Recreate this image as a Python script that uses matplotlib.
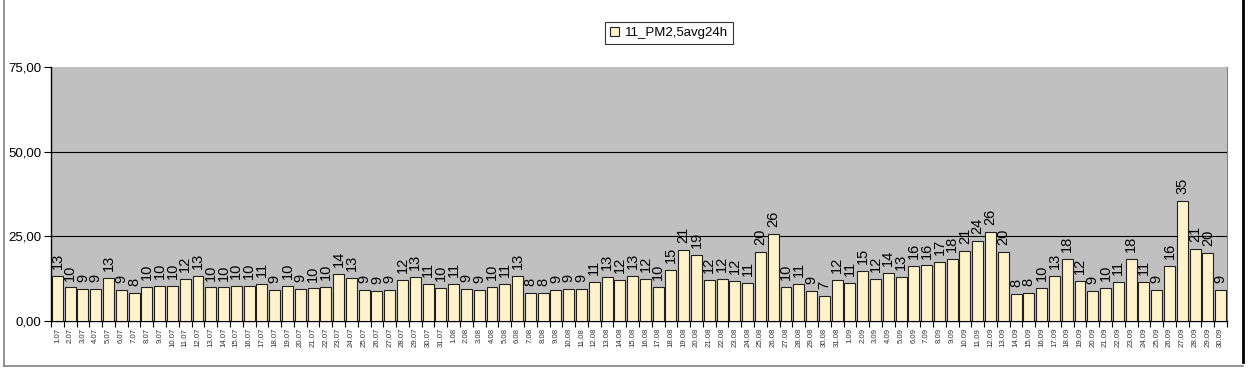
import numpy as np
import matplotlib
matplotlib.use("Agg")
import matplotlib.pyplot as plt
from matplotlib.lines import Line2D

plt.rcParams["font.family"] = ["Liberation Sans", "DejaVu Sans"]

# day labels: July (31), August (31), September (30)
dates = ([f"{d}.07" for d in range(1, 32)]
         + [f"{d}.08" for d in range(1, 32)]
         + [f"{d}.09" for d in range(1, 31)])

july = [13.2, 9.9, 9.4, 9.4, 12.7, 9.1, 8.4, 10.1, 10.3, 10.3,
        12.4, 13.4, 9.9, 9.9, 10.3, 10.3, 10.9, 9.1, 10.4, 9.4,
        9.6, 10.1, 13.8, 12.7, 9.1, 8.9, 9.1, 12.1, 13.0, 10.9,
        9.7]
august = [10.9, 9.4, 9.1, 10.1, 10.9, 13.4, 8.4, 8.4, 9.1, 9.4,
          9.4, 11.4, 12.9, 12.1, 13.2, 12.4, 10.0, 15.1, 21.1, 19.4,
          12.1, 12.4, 11.8, 11.1, 20.3, 25.8, 10.0, 10.9, 8.9, 7.4,
          12.1]
september = [11.1, 14.7, 12.4, 14.1, 13.0, 16.2, 16.4, 17.3, 18.4, 20.8,
             23.6, 26.4, 20.3, 8.0, 8.4, 9.7, 13.2, 18.2, 11.8, 8.9,
             9.7, 11.4, 18.4, 11.4, 9.1, 16.2, 35.4, 21.4, 20.0, 9.1]
values = july + august + september

series_name = "11_PM2,5avg24h"
y_ticks = [0, 25, 50, 75]
y_labels = ["0,00", "25,00", "50,00", "75,00"]

fig = plt.figure(figsize=(12.5, 3.7), dpi=100)
ax = fig.add_axes([51 / 1250, 49 / 370, 1176 / 1250, 254 / 370])
ax.set_facecolor("#c0c0c0")

x = np.arange(len(values))
bars = ax.bar(x, values, width=0.86, color="#fff2cc", edgecolor="#202020",
              linewidth=0.8, zorder=3, label=series_name)

for xi, v in zip(x, values):
    ax.annotate(f"{v:.0f}", (xi, v), xytext=(0, 5), textcoords="offset points",
                rotation=90, ha="center", va="bottom", fontsize=10.5, zorder=4)

ax.set_xlim(-0.5, len(values) - 0.5)
ax.set_ylim(0, 75)
ax.set_yticks(y_ticks)
ax.set_yticklabels(y_labels, fontsize=9.5)
for yv in (25, 50):
    ax.axhline(yv, color="black", linewidth=0.8, zorder=1)

ax.set_xticks(x)
ax.set_xticklabels(dates, rotation=90, fontsize=5.6, color="#303030")
ax.tick_params(axis="x", which="major", length=0, pad=5)
ax.set_xticks(np.arange(len(values) + 1) - 0.5, minor=True)
ax.tick_params(axis="x", which="minor", length=4, width=0.8)
ax.tick_params(axis="y", length=5, width=0.8, pad=2)

ax.spines["top"].set_visible(False)
ax.spines["right"].set_color("#808080")
ax.spines["left"].set_linewidth(1.0)
ax.spines["bottom"].set_linewidth(1.0)

leg = fig.legend(handles=[bars], labels=[series_name], loc="center",
                 bbox_to_anchor=(669 / 1250, 1 - 33 / 370), fontsize=9.5,
                 frameon=True, fancybox=False, edgecolor="black",
                 handlelength=0.7, handleheight=0.7, handletextpad=0.4,
                 borderpad=0.4, borderaxespad=0)
leg.get_frame().set_linewidth(0.8)

# chart area border
fig.add_artist(Line2D([4 / 1250, 4 / 1250], [1 - 366 / 370, 1], color="#808080",
                      linewidth=1.2, transform=fig.transFigure))
fig.add_artist(Line2D([4 / 1250, 1243 / 1250], [1 - 366 / 370, 1 - 366 / 370],
                      color="#808080", linewidth=1.2, transform=fig.transFigure))
fig.add_artist(Line2D([1243 / 1250, 1243 / 1250], [1 - 362 / 370, 1],
                      color="black", linewidth=2.0, transform=fig.transFigure))

fig.savefig("out.png", dpi=100)
